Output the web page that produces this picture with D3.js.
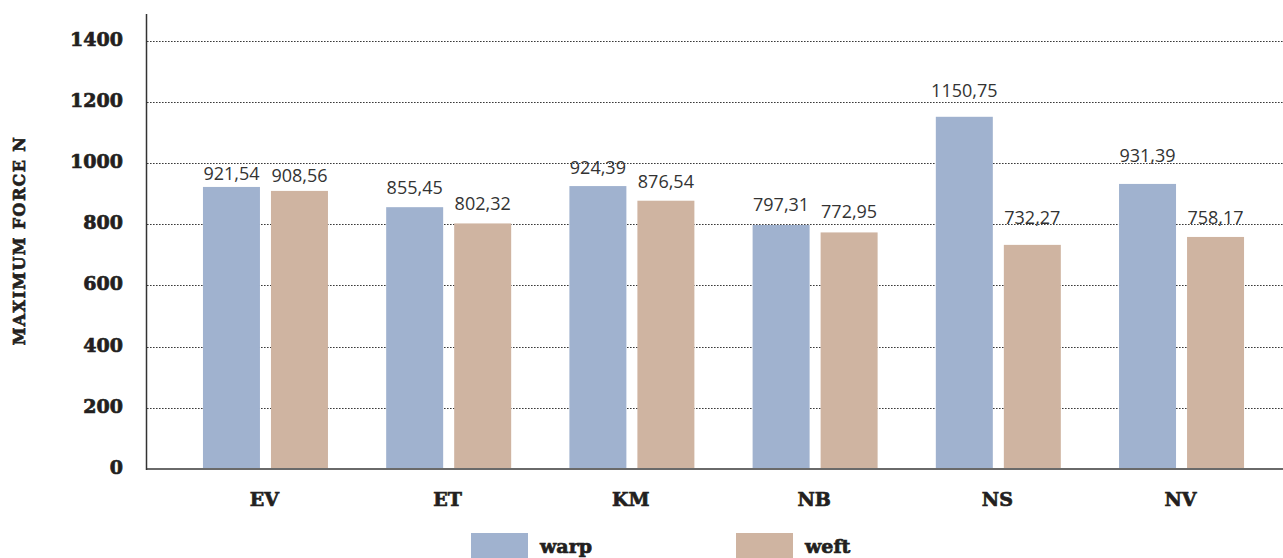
<!DOCTYPE html>
<html>
<head>
<meta charset="utf-8">
<script src="https://cdn.jsdelivr.net/npm/d3@7"></script>
<style>
  html, body { margin: 0; padding: 0; background: #fff; }
  svg { display: block; }
  .slab { font-family: 'DejaVu Serif', serif; font-weight: bold; fill: #231f20;
          stroke: #231f20; stroke-width: 0.7px; paint-order: stroke; }
</style>
</head>
<body>
<svg id="chart" width="1283" height="558"></svg>
<script>
// Maximum tensile force per fabric, warp and weft directions
const categories = ["EV", "ET", "KM", "NB", "NS", "NV"];
const seriesNames = ["warp", "weft"];
const warpValues = [921.54, 855.45, 924.39, 797.31, 1150.75, 931.39];
const weftValues = [908.56, 802.32, 876.54, 772.95, 732.27, 758.17];
const yTicks = [0, 200, 400, 600, 800, 1000, 1200, 1400];
const yTitle = "MAXIMUM FORCE N";

// gap (px) between each bar top and its value label
const warpLabelGap = [7, 13, 12, 14, 20, 22];
const weftLabelGap = [9, 13, 13, 14, 21, 13];

const colors = { warp: "#a0b2cf", weft: "#cfb4a1" };

const svg = d3.select("#chart");

const y = d3.scaleLinear().domain([0, 1400]).range([469, 40.5]);
const x0 = d3.scaleBand().domain(categories).range([146, 1301])
  .paddingInner(0).paddingOuter(0.152);
const x1 = d3.scaleBand().domain(seriesNames).range([0, x0.bandwidth()])
  .paddingInner(0.162).paddingOuter(0.428);

const rows = categories.map((c, i) => ({
  cat: c,
  vals: [
    { s: "warp", v: warpValues[i], gap: warpLabelGap[i] },
    { s: "weft", v: weftValues[i], gap: weftLabelGap[i] }
  ]
}));

// dotted gridlines
svg.append("g").selectAll("line")
  .data(yTicks.filter(t => t > 0))
  .join("line")
  .attr("x1", 147).attr("x2", 1283)
  .attr("y1", d => Math.round(y(d)) + 0.5).attr("y2", d => Math.round(y(d)) + 0.5)
  .attr("stroke", "#3a3a3a").attr("stroke-width", 1)
  .attr("stroke-dasharray", "1.6,1.4");

// y tick labels
svg.append("g").selectAll("text")
  .data(yTicks)
  .join("text")
  .attr("class", "slab")
  .attr("x", 123)
  .attr("y", d => y(d) + 5)
  .attr("text-anchor", "end")
  .attr("font-size", 19)
  .text(d => d);

// y axis title
svg.append("text")
  .attr("class", "slab")
  .attr("transform", "translate(25,240.5) rotate(-90)")
  .attr("text-anchor", "middle")
  .attr("font-size", 16).attr("letter-spacing", 1.4)
  .text(yTitle);

// bars
const groups = svg.append("g").selectAll("g")
  .data(rows)
  .join("g")
  .attr("transform", d => `translate(${x0(d.cat)},0)`);

groups.selectAll("rect")
  .data(d => d.vals)
  .join("rect")
  .attr("x", d => x1(d.s))
  .attr("width", x1.bandwidth())
  .attr("y", d => y(d.v))
  .attr("height", d => y(0) - y(d.v))
  .attr("fill", d => colors[d.s]);

// value labels (decimal comma)
const fmt = v => d3.format(".2f")(v).replace(".", ",");
groups.selectAll("text")
  .data(d => d.vals)
  .join("text")
  .attr("x", d => x1(d.s) + x1.bandwidth() / 2)
  .attr("y", d => y(d.v) - d.gap)
  .attr("text-anchor", "middle")
  .attr("font-family", "'Open Sans', sans-serif")
  .attr("font-size", 18).attr("fill", "#333")
  .text(d => fmt(d.v));

// axes lines
svg.append("line")
  .attr("x1", 146).attr("x2", 1301)
  .attr("y1", y(0)).attr("y2", y(0))
  .attr("stroke", "#6a6a6a").attr("stroke-width", 2);
svg.append("line")
  .attr("x1", 146.5).attr("x2", 146.5)
  .attr("y1", 14).attr("y2", y(0) + 1)
  .attr("stroke", "#333").attr("stroke-width", 1.5);

// category labels
svg.append("g").selectAll("text")
  .data(categories)
  .join("text")
  .attr("class", "slab")
  .attr("x", d => x0(d) + x0.bandwidth() / 2 - 1)
  .attr("y", 506)
  .attr("text-anchor", "middle")
  .attr("font-size", 19)
  .text(d => d);

// legend
const legend = svg.append("g").selectAll("g")
  .data(seriesNames)
  .join("g")
  .attr("transform", (d, i) => `translate(${471 + i * 265},533)`);
legend.append("rect")
  .attr("width", 57).attr("height", 28)
  .attr("fill", d => colors[d]);
legend.append("text")
  .attr("class", "slab")
  .attr("x", 69).attr("y", 20)
  .attr("font-size", 19)
  .text(d => d);
</script>
</body>
</html>
